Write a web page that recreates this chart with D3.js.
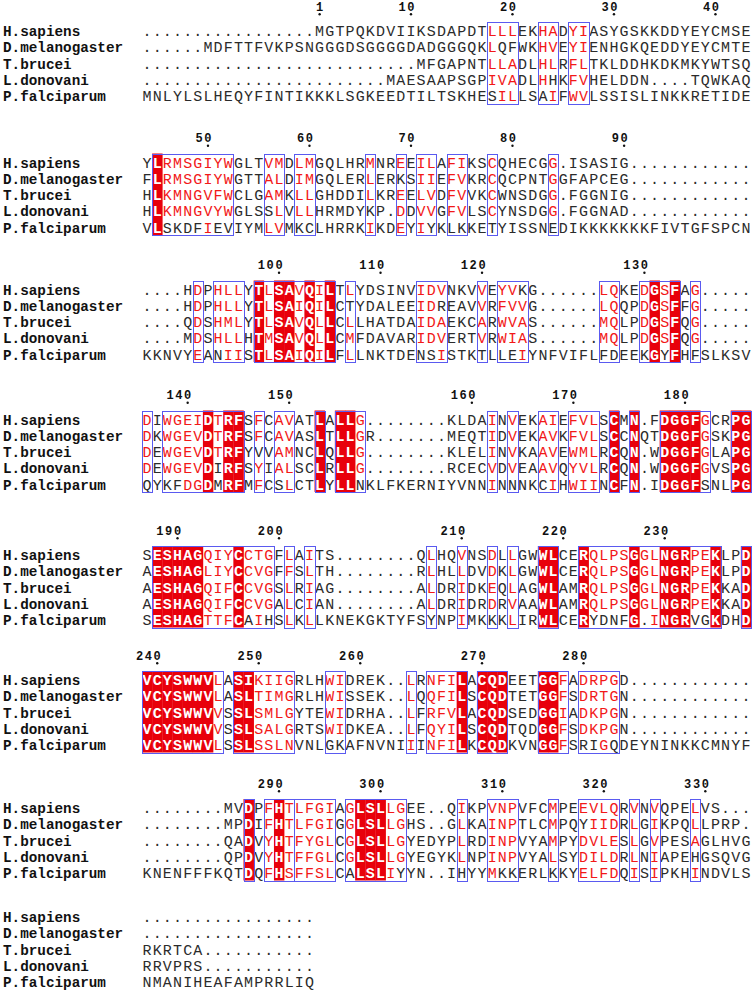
<!DOCTYPE html>
<html>
<head>
<meta charset="utf-8">
<script src="https://cdn.jsdelivr.net/npm/d3@7"></script>
<style>
  body { margin: 0; background: #fff; }
  svg { display: block; }
  .name { font-family: 'Liberation Mono', monospace; font-weight: bold; font-size: 14.3px; fill: #111; }
  .res { font-family: 'Liberation Mono', monospace; font-size: 15px; text-anchor: middle; }
  .res.fill { font-weight: bold; }
  .num { font-family: 'Liberation Mono', monospace; font-weight: bold; font-size: 12px; text-anchor: middle; fill: #111; }
</style>
</head>
<body>
<svg id="chart" width="755" height="992"></svg>
<script>
const species = ['H.sapiens', 'D.melanogaster', 'T.brucei', 'L.donovani', 'P.falciparum'];

// one string per block, residues written in groups of ten
// lower case = residue outside the similarity group of its framed column
const hSapiens = [
  '.......... .......MGT PQKDVIIKSD APDTLLLEKH ADYIASYGSK KDDYEYCMSE',
  'YLRMSGIYWG LTVMDLMGQL HRMNREEILA FIKSCQHECG G.ISASIG.. ..........',
  '....HDPHLL YTLSAVQILT LYDSINVIDV NKVVEYVkG. .....LQKED GSFAG.....',
  'DIWGEIDTRF SFCAVATLAL LG........ KLDAINVEKA IEFVLSCMN. FDGGFGCRPG',
  'SESHAGQIYC CTGFLAITS. .......QLH QVNSDLLGWW LCERQLPSGG LNGRPEKLPD',
  'VCYSWWVLAS IKIIGRLHWI DREK..LRNF ILACQDEETG GFADRPGD.. ..........',
  '........MV DPFHTLFGIA GLSLLGEE.. QIKPVNPVFC MPEEVLQRVN VQPELVS...',
  '.......... .......'
];
const dMelanogaster = [
  '......MDFT TFVKPSNGGG DSGGGGDADG GGQKLqfWKH VEYIENHGKQ EDDYEYCMTE',
  'FLRMSGIYWG TTALDIMGQL ERLERkSIIE FVKRCQCPNT GGFAPCEG.. ..........',
  '....HDPHLL YTLSAIQILC tYDALEEIDr EAVVRFVVG. .....LQQPD GSFFG.....',
  'DKWGEVDTRF SFCAVASLTL LGR....... MEQTIDVEKA VKFVLSCCNQ TDGGFGSKPG',
  'AESHAGLIYC CVGFFSLTH. .......RLH LLDVDKLGWW LCERQLPSGG LNGRPEKLPD',
  'VCYSWWVLAS LTIMGRLHWI SSEK..LQQF ILSCQDTETG GFSDRTGN.. ..........',
  '........MP DIFHTLFGIG GLSLLGHS.. GLKAINPTLC MPQyIIDRLG IKPQLLPRP.',
  '.......... .......'
];
const tBrucei = [
  '.......... .......... .......MFG APNTLLADLH LRFLTKLDDH KDKMKYWTSQ',
  'HLKMNGVFWC LGAMKLLGHD DILKREELVD FVVKCWNSDG G.FGGNIG.. ..........',
  '....QDSHML YTLSAVQLLC LLHATDAIDA EKCARWVAS. .....MQLPD GSFQG.....',
  'DEWGEVDTRF YvVAMNCLQL LG........ KLELINVKAA VEWMLRCQN. WDGGFGLAPG',
  'AESHAGQIFC CVGSLRIAG. .......ALD RIDKEQLAGW LAMRQLPSGG LNGRPEKKAD',
  'VCYSWWVVSS LSMLGYTEWI DRHA..LFRF VLACQDSEDG GIADKPGN.. ..........',
  '........QA DVYHTFYGLC GLSLLGYEDY PLRDINPVYA MPYDVLESLG VPESAGLHVG',
  'RKRTCA.... .......'
];
const lDonovani = [
  '.......... .......... ....MAESAA PSGPIVADLH hKFVHELDDN ....TQWKAQ',
  'HLKMNGVYWG LSsLVLLHRM DYkP.DDVVG FVLSCYNSDG G.FGGNAD.. ..........',
  '....MDSHLL HTMSAVQLLC MFDAVARIDV ERTVRWIAS. .....MQLPD GSFQG.....',
  'DEWGEVDiRF SYIALSCLRL LG........ RCECVDVEAA VQYVLRCQN. WDGGFGVSPG',
  'AESHAGQIFC CVGALCIAN. .......ALD RIDRDRVAAW LAMRQLPSGG LNGRPEKKAD',
  'VCYSWWVVSS LSALGRTSWI DKEA..LFQY ILSCQDTQDG GFSDKPGN.. ..........',
  '........QP DVYHTFFGLC GLSLLGYEGY KLNPINPVYA LSYDILDRLN IAPEhGSQVG',
  'RRVPRS.... .......'
];
const pFalciparum = [
  'MNLYLSLHEQ YFINTIKKKL SGKEEDTILT SKHEsILLSa IFWVLSSISL INKKRETIDE',
  'VLskdfIevI YMLVMkcLHR RKIKDEYIyK lkKEtYISSN eDIKKKKKKK FIVTGFSPCN',
  'KKNVYEAnII STLSAIQILF LLNKTDEnsI STKtLleIYN FVIFLfdEEk GyFHfSLKSV',
  'qYkfDGDmRF MFCsLCTLYL LnKLFKERNI YVNNINnNKc IHWIINCFN. IDGGFsNLPG',
  'SESHAGTTFC aIhSLKLLKN EKGKTYFSyN PIMKkKLIRW LCERydnfG. INGRvgKDHD',
  'VCYSWWVLSS LSSLNVNLgk AFNVNIIINF ILKCQDKVNG GFSriGqDEY NINKKCMNYF',
  'KNENFFFKQT DQFHSFFSLC aLSLIyYN.. IhYYMkkERL kKYELFDQIS IPKHINDVLS',
  'NMANIHEAFA MPRRLIQ'
];

// framed (similar) columns and strictly conserved columns, per block
const frames = [
  '35-37 40-41 43-44',
  '2-9 13-14 16-17 23 26 28-29 31-32 35 41',
  '6 8-10 12-19 21 28-30 34 36-38 46-47 50-53 55',
  '1 3-10 12 14-15 18 20-22 35 37 40-41 43-45 47 49 52-56 59-60',
  '2-13 15 17 29 32 35 37 40-41 44-57 60',
  '1-8 10-15 19-20 27 29-32 34-36 40-42 44-47',
  '11 13-15 16-19 21-26 32 35-37 41 44-47 49 51 55',
  ''
];
const identical = [
  '',
  '2',
  '12 14-15 17 19 51 53',
  '7 9-10 18 20-21 47 49 52-55 59-60',
  '2-6 10 40-41 44 49 52-54 57 60',
  '1-7 10-11 32 34-36 40-41',
  '11 14 22-24',
  ''
];

// layout
const blockY = [31, 162.5, 289.5, 419.5, 555, 680, 808, 917];
const rowStep = 16.3;
const seqLeft = 142, colWidth = 10.15;
const digitStep = 8.8;

const RED = '#e8000b', RED_TEXT = '#f21818', BLUE = '#5a5af0', INK = '#2b2b2b';

function ranges(spec) {
  return spec.split(' ').filter((s) => s).map((s) => {
    const [a, b] = s.split('-').map(Number);
    return [a, b || a];
  });
}

function expand(list) {
  return new Set(list.flatMap(([a, b]) => d3.range(a, b + 1)));
}

const svg = d3.select('#chart');
const x = d3.scaleBand().domain(d3.range(1, 61)).range([seqLeft, seqLeft + 60 * colWidth]);
const bw = x.bandwidth();
const tables = [hSapiens, dMelanogaster, tBrucei, lDonovani, pFalciparum];

let residue = 0;

blockY.forEach((top, b) => {
  const rows = tables.map((t) => t[b].replace(/ /g, ''));
  const y = d3.scaleBand().domain(species).range([top - 9, top - 9 + species.length * rowStep]);
  const boxes = ranges(frames[b]);
  const framed = expand(boxes);
  const fills = expand(ranges(identical[b]));
  const g = svg.append('g').attr('class', 'block');

  // numbering follows the first sequence
  const ticks = [];
  Array.from(rows[0]).forEach((c, i) => {
    if (c === '.') return;
    residue++;
    if (residue === 1 || residue % 10 === 0) ticks.push({ col: i + 1, n: String(residue) });
  });

  const tick = g.selectAll('.tick').data(ticks).enter().append('g').attr('class', 'tick');
  tick.append('circle')
    .attr('cx', (d) => x(d.col) + bw / 2)
    .attr('cy', top - 16.7)
    .attr('r', 1.2)
    .style('fill', '#111');
  tick.each(function(d) {
    const digits = Array.from(d.n);
    d3.select(this).selectAll('text').data(digits).enter().append('text')
      .attr('class', 'num')
      .attr('x', (c, k) => x(d.col) + bw / 2 - (digits.length - 1 - k) * digitStep)
      .attr('y', top - 20.4)
      .text((c) => c);
  });

  // conserved columns
  g.selectAll('.fill').data(Array.from(fills)).enter().append('rect')
    .attr('class', 'fill')
    .attr('x', (c) => x(c))
    .attr('y', y.range()[0])
    .attr('width', bw + 0.3)
    .attr('height', y.range()[1] - y.range()[0])
    .style('fill', RED);

  // names
  g.selectAll('.name').data(species).enter().append('text')
    .attr('class', 'name')
    .attr('x', 3)
    .attr('y', (s) => y(s) + 14)
    .text((s) => s);

  // residues
  const cells = rows.flatMap((s, r) => Array.from(s).map((c, i) => ({ r, col: i + 1, c })));
  g.selectAll('.res').data(cells).enter().append('text')
    .attr('class', (d) => fills.has(d.col) ? 'res fill' : 'res')
    .attr('x', (d) => x(d.col) + bw / 2)
    .attr('y', (d) => y(species[d.r]) + 14)
    .style('fill', (d) => {
      if (fills.has(d.col)) return '#fff';
      if (framed.has(d.col) && d.c !== '.' && d.c === d.c.toUpperCase()) return RED_TEXT;
      return INK;
    })
    .text((d) => d.c.toUpperCase());

  // frames
  g.selectAll('.frame').data(boxes).enter().append('rect')
    .attr('class', 'frame')
    .attr('x', (d) => Math.round(x(d[0])) + 0.5)
    .attr('y', Math.round(y.range()[0]) + 0.5)
    .attr('width', (d) => Math.round(x(d[1]) + bw) - Math.round(x(d[0])))
    .attr('height', Math.round(y.range()[1]) - Math.round(y.range()[0]))
    .style('fill', 'none')
    .style('stroke', BLUE)
    .style('stroke-width', 1);
});
</script>
</body>
</html>
